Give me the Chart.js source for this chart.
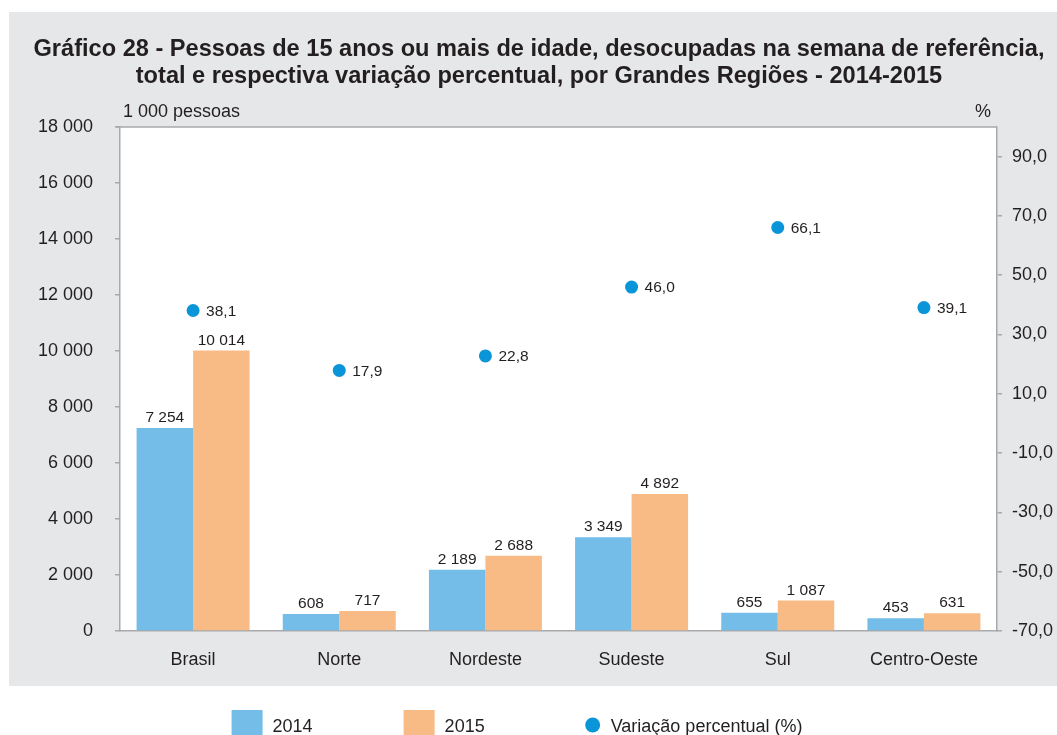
<!DOCTYPE html>
<html>
<head>
<meta charset="utf-8">
<script src="https://cdn.jsdelivr.net/npm/chart.js@4.4.1/dist/chart.umd.min.js"></script>
<style>
html,body{margin:0;padding:0;background:#ffffff;}
#wrap{width:1057px;height:735px;position:relative;overflow:hidden;}
</style>
</head>
<body>
<div id="wrap"><canvas id="c" width="1057" height="735"></canvas></div>
<script>
// ---- data ----
const categories = ['Brasil', 'Norte', 'Nordeste', 'Sudeste', 'Sul', 'Centro-Oeste'];
const values2014 = [7254, 608, 2189, 3349, 655, 453];
const values2015 = [10014, 717, 2688, 4892, 1087, 631];
const variation = [38.1, 17.9, 22.8, 46.0, 66.1, 39.1];
const seriesLabels = ['2014', '2015', 'Variação percentual (%)'];
const leftTicks = [0, 2000, 4000, 6000, 8000, 10000, 12000, 14000, 16000, 18000];
const rightTicks = [-70, -50, -30, -10, 10, 30, 50, 70, 90];
const rightRange = [-70, 100];
const titleLines = [
  'Gráfico 28 - Pessoas de 15 anos ou mais de idade, desocupadas na semana de referência,',
  'total e respectiva variação percentual, por Grandes Regiões - 2014-2015'
];
const leftUnit = '1 000 pessoas';
const rightUnit = '%';

// ---- style ----
const FONT = "'Liberation Sans', Arial, Helvetica, sans-serif";
const TEXT = '#231f20';
const AXIS = '#a7a9ac';
const BLUE = '#74bde8';
const ORANGE = '#f9bb85';
const DOT = '#0a95d9';
const PANEL = '#e6e7e8';

const fmtInt = v => String(Math.round(v)).replace(/\B(?=(\d{3})+(?!\d))/g, ' ');
const fmtDec = v => v.toFixed(1).replace('.', ',');

const decorPlugin = {
  id: 'decor',
  beforeDraw(chart) {
    const ctx = chart.ctx, a = chart.chartArea;
    ctx.save();
    ctx.fillStyle = '#ffffff';
    ctx.fillRect(0, 0, chart.width, chart.height);
    ctx.fillStyle = PANEL;
    ctx.fillRect(9, 12, chart.width - 9, 674);
    ctx.fillStyle = '#ffffff';
    ctx.fillRect(a.left, a.top, a.right - a.left, a.bottom - a.top);
    // top frame line
    ctx.strokeStyle = AXIS;
    ctx.lineWidth = 1.5;
    ctx.beginPath();
    ctx.moveTo(a.left - 4, a.top);
    ctx.lineTo(a.right, a.top);
    ctx.stroke();
    // title
    ctx.fillStyle = TEXT;
    ctx.font = 'bold 23.6px ' + FONT;
    ctx.textAlign = 'center';
    ctx.textBaseline = 'alphabetic';
    ctx.fillText(titleLines[0], 539, 56);
    ctx.fillText(titleLines[1], 539, 83);
    // unit labels
    ctx.font = '18px ' + FONT;
    ctx.textAlign = 'left';
    ctx.fillText(leftUnit, a.left + 3, a.top - 10);
    ctx.textAlign = 'right';
    ctx.fillText(rightUnit, a.right - 6, a.top - 10);
    ctx.restore();
  },
  afterDatasetsDraw(chart) {
    const ctx = chart.ctx;
    ctx.save();
    ctx.fillStyle = TEXT;
    ctx.font = '15.5px ' + FONT;
    [0, 1].forEach(di => {
      const meta = chart.getDatasetMeta(di);
      meta.data.forEach((el, i) => {
        ctx.textAlign = 'center';
        ctx.textBaseline = 'alphabetic';
        ctx.fillText(fmtInt(chart.data.datasets[di].data[i]), el.x, el.y - 6);
      });
    });
    const pm = chart.getDatasetMeta(2);
    pm.data.forEach((el, i) => {
      ctx.textAlign = 'left';
      ctx.textBaseline = 'middle';
      ctx.fillText(fmtDec(chart.data.datasets[2].data[i]), el.x + 13, el.y + 1);
    });
    ctx.restore();
  },
  afterDraw(chart) {
    // legend
    const ctx = chart.ctx;
    const ds = chart.data.datasets;
    ctx.save();
    ctx.font = '18px ' + FONT;
    const box = 31, gapText = 10, gaps = [91, 100];
    const items = ds.map((d, i) => {
      const marker = i < 2 ? box : 16;
      const tg = i < 2 ? gapText : 10;
      return { d, marker, tg, w: marker + tg + ctx.measureText(d.label).width, isDot: i === 2 };
    });
    const total = items.reduce((s, it) => s + it.w, 0) + gaps[0] + gaps[1];
    let x = chart.width / 2 - total / 2 - 11.5;
    const top = 710, base = 732;
    items.forEach((it, i) => {
      if (it.isDot) {
        ctx.fillStyle = it.d.pointBackgroundColor;
        ctx.beginPath();
        ctx.arc(x + 8, 725, 7.5, 0, Math.PI * 2);
        ctx.fill();
      } else {
        ctx.fillStyle = it.d.backgroundColor;
        ctx.fillRect(x, top, box, 30);
      }
      ctx.fillStyle = TEXT;
      ctx.textAlign = 'left';
      ctx.textBaseline = 'alphabetic';
      ctx.fillText(it.d.label, x + it.marker + it.tg, base);
      x += it.w + (gaps[i] || 0);
    });
    ctx.restore();
  }
};

new Chart(document.getElementById('c'), {
  data: {
    labels: categories,
    datasets: [
      { type: 'bar', label: seriesLabels[0], data: values2014, backgroundColor: BLUE, yAxisID: 'y', order: 2,
        categoryPercentage: 0.773, barPercentage: 1.0 },
      { type: 'bar', label: seriesLabels[1], data: values2015, backgroundColor: ORANGE, yAxisID: 'y', order: 2,
        categoryPercentage: 0.773, barPercentage: 1.0 },
      { type: 'line', label: seriesLabels[2], data: variation, yAxisID: 'y1', showLine: false, order: 1,
        pointRadius: 6.5, pointBackgroundColor: DOT, pointBorderWidth: 0, backgroundColor: DOT, borderColor: DOT }
    ]
  },
  options: {
    responsive: false,
    animation: false,
    devicePixelRatio: 1,
    layout: { padding: { top: 127, left: 0, right: 0, bottom: 0 } },
    plugins: { legend: { display: false }, title: { display: false }, tooltip: { enabled: false } },
    scales: {
      x: {
        position: 'bottom',
        grid: { display: false, drawTicks: false },
        border: { display: true, color: AXIS, width: 1.5 },
        ticks: { color: TEXT, font: { family: FONT, size: 18 }, padding: 18, maxRotation: 0 },
        afterFit: s => { s.height = 104; }
      },
      y: {
        position: 'left',
        min: leftTicks[0], max: leftTicks[leftTicks.length - 1],
        afterBuildTicks: s => { s.ticks = leftTicks.map(v => ({ value: v })); },
        grid: { drawOnChartArea: false, drawTicks: true, tickLength: 5, color: AXIS, lineWidth: 1.5 },
        border: { display: true, color: AXIS, width: 1.5 },
        ticks: { color: TEXT, font: { family: FONT, size: 18 }, padding: 22, callback: v => fmtInt(v) },
        afterFit: s => { s.width = 120; }
      },
      y1: {
        position: 'right',
        min: rightRange[0], max: rightRange[1],
        afterBuildTicks: s => { s.ticks = rightTicks.map(v => ({ value: v })); },
        grid: { drawOnChartArea: false, drawTicks: true, tickLength: 5, color: AXIS, lineWidth: 1.5 },
        border: { display: true, color: AXIS, width: 1.5 },
        ticks: { color: TEXT, font: { family: FONT, size: 18 }, padding: 10, callback: v => fmtDec(v) },
        afterFit: s => { s.width = 60; }
      }
    }
  },
  plugins: [decorPlugin]
});
</script>
</body>
</html>
